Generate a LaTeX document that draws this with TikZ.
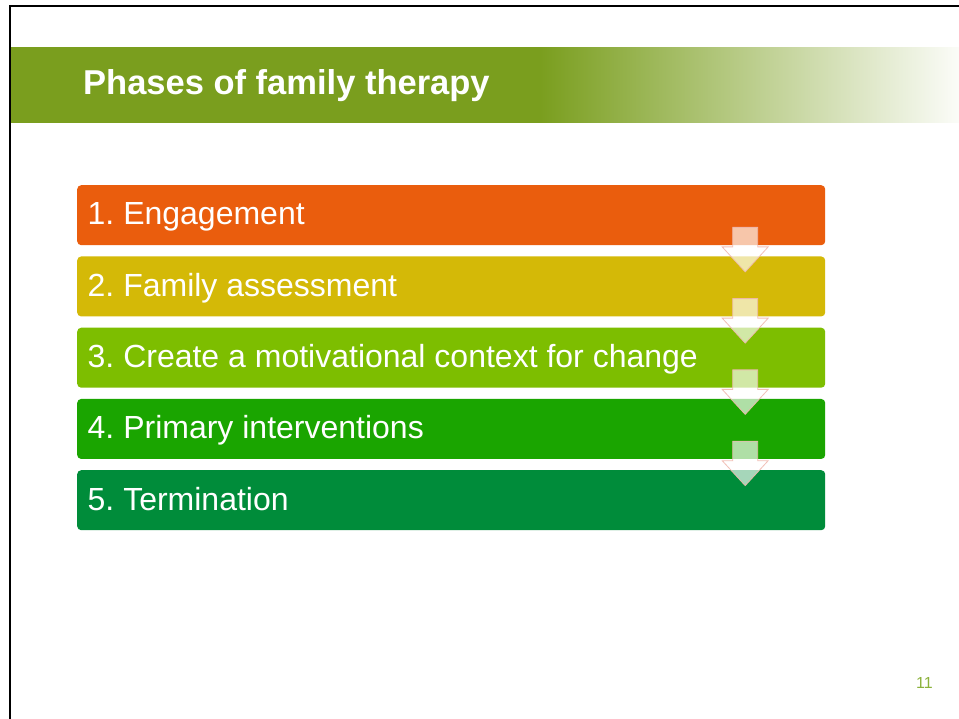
\documentclass[tikz,border=0pt]{standalone}
\usepackage{fontspec}
\setmainfont{Liberation Sans}
\usetikzlibrary{calc}
\definecolor{olivebar}{RGB}{122,158,30}
\definecolor{pagenum}{RGB}{140,178,60}
\definecolor{cone}{RGB}{234,93,13}
\definecolor{ctwo}{RGB}{212,185,7}
\definecolor{cthree}{RGB}{125,190,0}
\definecolor{cfour}{RGB}{26,165,0}
\definecolor{cfive}{RGB}{0,140,58}
\definecolor{arrowline}{RGB}{240,185,175}
\tikzset{
  phasebox/.style={rounded corners=4pt, inner sep=0pt,
    minimum width=748pt, minimum height=60pt, anchor=north west},
  phasetext/.style={text=white, font=\fontsize{32}{38}\selectfont,
    anchor=base west, inner sep=0pt},
  downarrow/.style={fill=white, fill opacity=0.65, draw=arrowline,
    draw opacity=0.9, line width=0.8pt, line join=miter},
  titletext/.style={text=white, font=\fontsize{34.5}{40}\selectfont\bfseries,
    anchor=base west, inner sep=0pt}
}
\frenchspacing
\begin{document}
\begin{tikzpicture}[x=1pt,y=-1pt]
\useasboundingbox (0,0) rectangle (959,719);
\fill[white] (0,0) rectangle (959,719);
% title banner
\begin{scope}
  \clip (9,48) rectangle (959,123);
  \fill[olivebar] (9,40) rectangle (542,130);
  \shade[left color=olivebar, right color=olivebar!3!white] (540,40) rectangle (959,130);
\end{scope}
\node[titletext] (title) at (83,95) {Phases of family therapy};
% frame
\draw[line width=2pt] (9.5,720) -- (9.5,6.5) -- (960,6.5);
% phase boxes
\node[phasebox, fill=cone]   (b1) at (77,185)    {};
\node[phasebox, fill=ctwo]   (b2) at (77,256.25) {};
\node[phasebox, fill=cthree] (b3) at (77,327.5)  {};
\node[phasebox, fill=cfour]  (b4) at (77,398.75) {};
\node[phasebox, fill=cfive]  (b5) at (77,470)    {};
\node[phasetext] (t1) at ($(b1.north west)+(10.5,40)$) {1. Engagement};
\node[phasetext] (t2) at ($(b2.north west)+(10.5,40)$) {2. Family assessment};
\node[phasetext] (t3) at ($(b3.north west)+(10.5,40)$) {3. Create a motivational context for change};
\node[phasetext] (t4) at ($(b4.north west)+(10.5,40)$) {4. Primary interventions};
\node[phasetext] (t5) at ($(b5.north west)+(10.5,40)$) {5. Termination};
% arrows between boxes
\foreach \i in {1,2,3,4}{
  \draw[downarrow] ($(b\i.south)+(281.5,-18)$) -- ++(25,0) -- ++(0,19.5)
     -- ++(10.5,0) -- ++(-23,25) -- ++(-23,-25) -- ++(10.5,0) -- cycle;
}
% page number
\node[text=pagenum, font=\fontsize{16}{18}\selectfont, anchor=base west, inner sep=0pt] (pnum) at (916,688) {11};
\end{tikzpicture}
\end{document}
